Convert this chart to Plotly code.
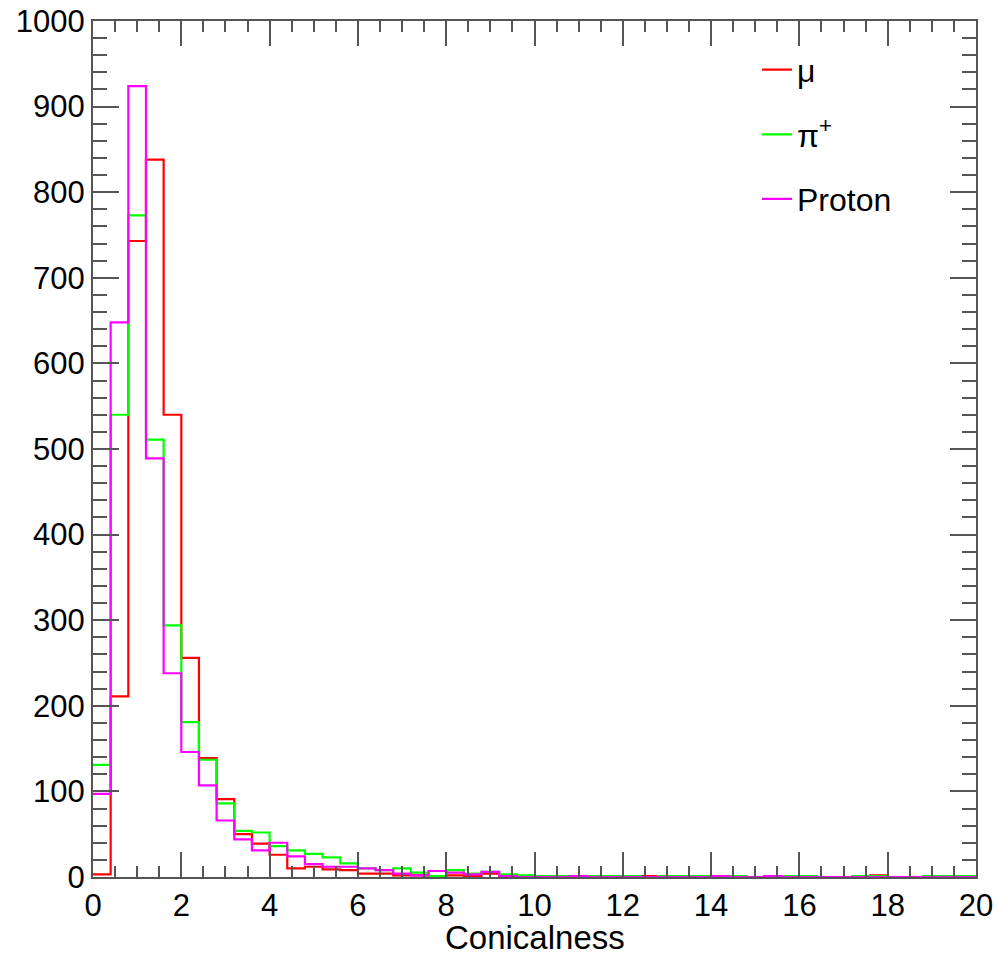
import plotly.graph_objects as go

bin_width = 0.4
n_bins = 50
x_min, x_max = 0, 20

mu_counts = [3, 211, 743, 838, 540, 256, 139, 91, 50, 39,
             26, 10, 12, 9, 8, 4, 4, 2, 2, 1,
             2, 1, 4, 1, 1, 1, 0, 1, 0, 1,
             0, 1, 0, 1, 0, 0, 1, 0, 0, 1,
             0, 0, 0, 0, 2, 0, 0, 0, 0, 0]
pi_counts = [131, 540, 773, 511, 294, 181, 137, 86, 54, 52,
             36, 31, 27, 23, 16, 10, 8, 10, 5, 1,
             8, 4, 6, 3, 2, 1, 1, 0, 1, 1,
             1, 0, 1, 1, 1, 0, 1, 0, 0, 1,
             1, 0, 0, 1, 1, 0, 0, 1, 1, 1]
proton_counts = [97, 648, 924, 489, 238, 146, 107, 66, 44, 31,
                 40, 24, 15, 12, 12, 10, 8, 4, 2, 7,
                 5, 3, 6, 1, 0, 0, 0, 1, 0, 0,
                 0, 0, 0, 0, 0, 1, 0, 0, 1, 0,
                 0, 0, 0, 0, 0, 0, 0, 0, 0, 0]

series_names = ["μ", "π<sup>+</sup>", "Proton"]
series_colors = ["#ff0000", "#00ff00", "#ff00ff"]
series_data = [mu_counts, pi_counts, proton_counts]
x_title = "Conicalness"

edges = [round(x_min + i * bin_width, 4) for i in range(n_bins + 1)]

fig = go.Figure()
for i, (name, color, counts) in enumerate(zip(series_names, series_colors, series_data)):
    xs = edges
    ys = list(counts) + [counts[-1]]
    fig.add_trace(go.Scatter(
        x=xs, y=ys, mode="lines", name=name,
        line=dict(color=color, width=2.2, shape="hv"),
        legendgroup=f"g{i}",
    ))

font_family = "Liberation Sans, Arial, Helvetica, sans-serif"
axis_common = dict(
    showgrid=False, zeroline=False, automargin=False,
    showline=True, linecolor="#555555", linewidth=2,
    mirror="allticks", ticks="inside", tickcolor="#555555", tickwidth=2,
    tickfont=dict(family=font_family, size=31, color="black"),
    ticklabeloverflow="allow",
)

fig.update_xaxes(
    range=[x_min, x_max], tickmode="linear", tick0=0, dtick=2, ticklen=25,
    minor=dict(ticks="inside", dtick=0.5, ticklen=11, tickcolor="#555555", tickwidth=2),
    **axis_common,
)
fig.update_yaxes(
    range=[0, 1000], tickmode="linear", tick0=0, dtick=100, ticklen=26,
    minor=dict(ticks="inside", dtick=20, ticklen=14, tickcolor="#555555", tickwidth=2),
    **axis_common,
)

fig.add_annotation(
    text=x_title, xref="paper", yref="paper", x=0.5, y=-0.071,
    xanchor="center", yanchor="middle", showarrow=False,
    font=dict(family=font_family, size=33, color="black"),
)

fig.update_layout(
    width=998, height=954,
    margin=dict(l=93, r=22, t=21, b=77),
    paper_bgcolor="white", plot_bgcolor="white",
    showlegend=True,
    legend=dict(
        x=0.752, y=0.975, xanchor="left", yanchor="top",
        bgcolor="rgba(0,0,0,0)", borderwidth=0,
        font=dict(family=font_family, size=32, color="black"),
        tracegroupgap=20,
    ),
)

fig.write_html(
    "out.html",
    config={"displayModeBar": False},
    post_script="document.body.style.margin='0';document.body.style.overflow='hidden';",
)
